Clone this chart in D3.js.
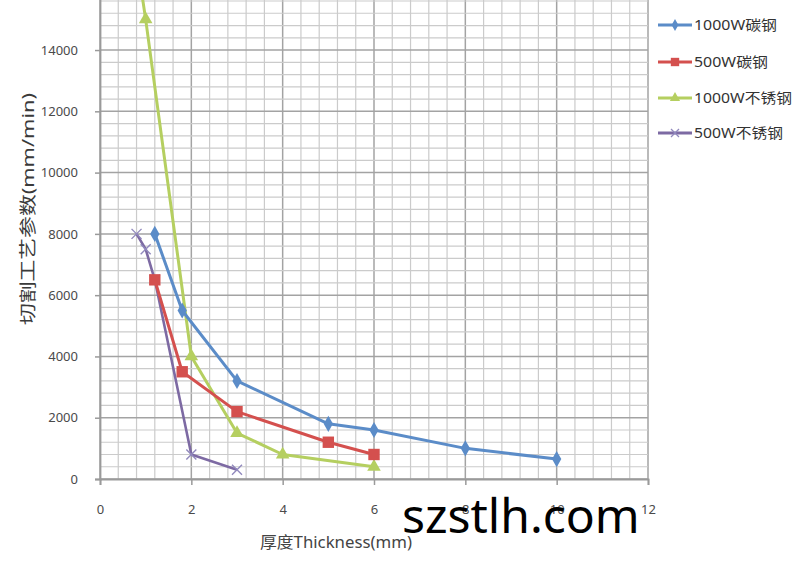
<!DOCTYPE html>
<html><head><meta charset="utf-8">
<script src="https://cdn.jsdelivr.net/npm/d3@7/dist/d3.min.js"></script>
<style>
html,body{margin:0;padding:0;background:#fff;}
svg{display:block;}
</style></head>
<body>
<svg id="chart" width="800" height="562"></svg>
<script>
// ---- data ----
const seriesNames = ["1000W碳钢", "500W碳钢", "1000W不锈钢", "500W不锈钢"];
const cs1000X = [1.2, 1.8, 3, 5, 6, 8, 10];
const cs1000Y = [8000, 5500, 3200, 1800, 1600, 1000, 650];
const cs500X  = [1.2, 1.8, 3, 5, 6];
const cs500Y  = [6500, 3500, 2200, 1200, 800];
const ss1000X = [0.8, 1, 2, 3, 4, 6];
const ss1000Y = [17000, 15000, 4000, 1500, 800, 400];
const ss500X  = [0.8, 1, 1.2, 2, 3];
const ss500Y  = [8000, 7500, 6500, 800, 300];
const xTicks = [0, 2, 4, 6, 8, 10, 12];
const yTicks = [0, 2000, 4000, 6000, 8000, 10000, 12000, 14000];

const svg = d3.select("#chart");
const plotLeft = 100, plotRight = 648, plotBottom = 479;
const pxPer1000 = 30.64;
const plotTop = plotBottom - 16 * pxPer1000;

const x = d3.scaleLinear().domain([0, 12]).range([plotLeft, plotRight]);
const y = d3.scaleLinear().domain([0, 16000]).range([plotBottom, plotTop]);

// grid
const g = svg.append("g");
const minorX = d3.range(0, 12.01, 0.4), minorY = d3.range(0, 16001, 400);
const isMajorX = d => Math.abs(d / 2 - Math.round(d / 2)) < 1e-6;
g.selectAll(".mx").data(minorX).enter().append("line")
  .attr("x1", d => x(d)).attr("x2", d => x(d)).attr("y1", y(16000)).attr("y2", y(0))
  .attr("stroke", d => isMajorX(d) ? "#a3a3a3" : "#cbcbcb")
  .attr("stroke-width", d => isMajorX(d) ? 1.5 : 1.2);
g.selectAll(".my").data(minorY).enter().append("line")
  .attr("y1", d => y(d)).attr("y2", d => y(d)).attr("x1", x(0)).attr("x2", x(12))
  .attr("stroke", d => (d % 2000 === 0) ? "#a3a3a3" : "#cbcbcb")
  .attr("stroke-width", d => (d % 2000 === 0) ? 1.5 : 1.2);

// axes
const xAxis = d3.axisBottom(x).tickValues(xTicks).tickSize(6).tickPadding(20).tickFormat(d3.format("d"));
const yAxis = d3.axisLeft(y).tickValues(yTicks).tickSize(5).tickPadding(17).tickFormat(d3.format("d"));
const gx = svg.append("g").attr("transform", `translate(0,${plotBottom})`).call(xAxis);
const gy = svg.append("g").attr("transform", `translate(${plotLeft},0)`).call(yAxis);
[gx, gy].forEach(a => {
  a.select(".domain").attr("stroke", "#9a9a9a").attr("stroke-width", 1.8);
  a.selectAll(".tick line").attr("stroke", "#9a9a9a").attr("stroke-width", 1.5);
  a.selectAll(".tick text").attr("fill", "#4a4a4a").style("font-family", "'Noto Sans', sans-serif").style("font-size", "13px");
});

// series
const colors = ["#5b8cc8", "#d4504e", "#b5cf60", "#7d6aa3"];
const data = [
  cs1000X.map((v, i) => [v, cs1000Y[i]]),
  cs500X.map((v, i) => [v, cs500Y[i]]),
  ss1000X.map((v, i) => [v, ss1000Y[i]]),
  ss500X.map((v, i) => [v, ss500Y[i]])
];
const line = d3.line().x(d => x(d[0])).y(d => y(d[1]));
const drawOrder = [3, 2, 1, 0];
const symbols = [d3.symbolDiamond, d3.symbolSquare, d3.symbolTriangle, d3.symbolX];
const sizes = [75, 130, 80, 70];

drawOrder.forEach(i => {
  svg.append("path").datum(data[i]).attr("d", line)
    .attr("fill", "none").attr("stroke", colors[i])
    .attr("stroke-width", i === 3 ? 2.6 : 3).attr("stroke-linejoin", "round");
});
drawOrder.forEach(i => {
  data[i].forEach(d => {
    const m = svg.append("g").attr("transform", `translate(${x(d[0])},${y(d[1])})`);
    if (i === 3) {
      m.append("path").attr("d", "M-5,-5L5,5M-5,5L5,-5")
        .attr("stroke", "#9189bd").attr("stroke-width", 1.4).attr("fill", "none");
    } else {
      m.append("path").attr("d", d3.symbol().type(symbols[i]).size(sizes[i])()).attr("fill", colors[i]);
    }
  });
});

// legend
const legY = [25, 62, 98, 133];
const legLen = [83, 74, 98, 89];
seriesNames.forEach((name, i) => {
  const lg = svg.append("g").attr("transform", `translate(658,${legY[i]})`);
  lg.append("line").attr("x1", 0).attr("x2", 34).attr("y1", 0).attr("y2", 0)
    .attr("stroke", colors[i]).attr("stroke-width", 3);
  const m = lg.append("g").attr("transform", "translate(17,0)");
  if (i === 3) {
    m.append("path").attr("d", "M-4,-4L4,4M-4,4L4,-4")
      .attr("stroke", "#9189bd").attr("stroke-width", 1.3).attr("fill", "none");
  } else {
    m.append("path").attr("d", d3.symbol().type(symbols[i]).size([40, 70, 45][i])()).attr("fill", colors[i]);
  }
  lg.append("text").attr("x", 36).attr("y", 5).text(name)
    .attr("fill", "#333").style("font-family", "'Noto Sans', 'Noto Sans CJK SC', sans-serif")
    .style("font-size", "14px").attr("textLength", legLen[i]).attr("lengthAdjust", "spacingAndGlyphs");
});

// axis titles
svg.append("text").text("厚度Thickness(mm)")
  .attr("x", 260).attr("y", 548)
  .attr("fill", "#444").style("font-family", "'Noto Sans', 'Noto Sans CJK SC', sans-serif")
  .style("font-size", "16px").attr("textLength", 152).attr("lengthAdjust", "spacingAndGlyphs");
svg.append("text").text("切割工艺参数(mm/min)")
  .attr("transform", "translate(34,325) rotate(-90)")
  .attr("fill", "#3a3a3a").style("font-family", "'Noto Sans', 'Noto Sans CJK SC', sans-serif")
  .style("font-size", "17px").attr("textLength", 232).attr("lengthAdjust", "spacingAndGlyphs");

// watermark
svg.append("text").text("szstlh.com")
  .attr("x", 402).attr("y", 533)
  .attr("fill", "#000").style("font-family", "'Noto Sans', sans-serif")
  .style("font-size", "48px");
</script>
</body></html>
